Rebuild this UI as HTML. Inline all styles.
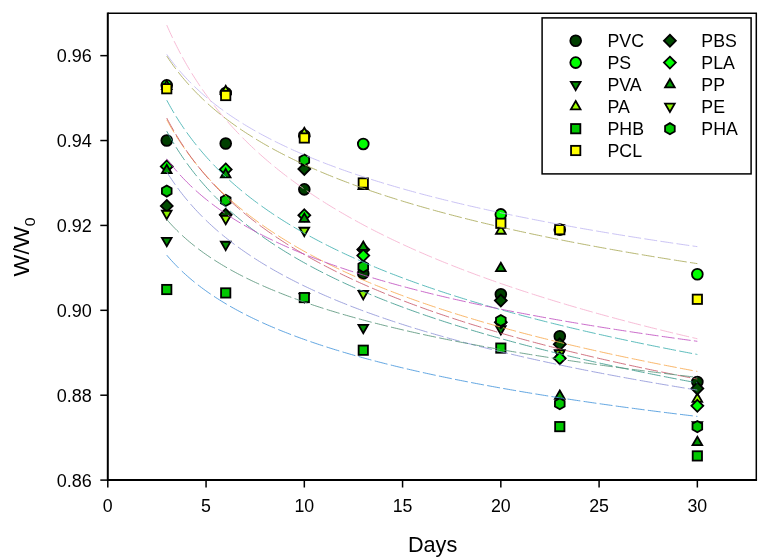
<!DOCTYPE html>
<html><head><meta charset="utf-8"><style>
html,body{margin:0;padding:0;background:#fff;}
body{width:769px;height:560px;overflow:hidden;}
svg{display:block;will-change:transform;}
.t{font-family:"Liberation Sans",sans-serif;font-size:18.5px;fill:#000;}
.l{font-family:"Liberation Sans",sans-serif;font-size:23px;fill:#000;}
</style></head><body>
<svg width="769" height="560" viewBox="0 0 769 560">
<rect width="769" height="560" fill="#fff"/>
<path d="M107.8 13.2L756.3 13.2L756.3 480.1" fill="none" stroke="#000" stroke-width="1.5"/><path d="M107.8 12.45L107.8 480.1L757.05 480.1" fill="none" stroke="#000" stroke-width="2"/><line x1="107.80" y1="480.1" x2="107.80" y2="487.5" stroke="#000" stroke-width="1.5"/><text transform="translate(107.80 512) scale(0.96 1.02)" text-anchor="middle" class="t">0</text><line x1="206.06" y1="480.1" x2="206.06" y2="487.5" stroke="#000" stroke-width="1.5"/><text transform="translate(206.06 512) scale(0.96 1.02)" text-anchor="middle" class="t">5</text><line x1="304.32" y1="480.1" x2="304.32" y2="487.5" stroke="#000" stroke-width="1.5"/><text transform="translate(304.32 512) scale(0.96 1.02)" text-anchor="middle" class="t">10</text><line x1="402.57" y1="480.1" x2="402.57" y2="487.5" stroke="#000" stroke-width="1.5"/><text transform="translate(402.57 512) scale(0.96 1.02)" text-anchor="middle" class="t">15</text><line x1="500.83" y1="480.1" x2="500.83" y2="487.5" stroke="#000" stroke-width="1.5"/><text transform="translate(500.83 512) scale(0.96 1.02)" text-anchor="middle" class="t">20</text><line x1="599.09" y1="480.1" x2="599.09" y2="487.5" stroke="#000" stroke-width="1.5"/><text transform="translate(599.09 512) scale(0.96 1.02)" text-anchor="middle" class="t">25</text><line x1="697.35" y1="480.1" x2="697.35" y2="487.5" stroke="#000" stroke-width="1.5"/><text transform="translate(697.35 512) scale(0.96 1.02)" text-anchor="middle" class="t">30</text><line x1="100.3" y1="480.10" x2="107.8" y2="480.10" stroke="#000" stroke-width="1.5"/><text transform="translate(91.8 486.60) scale(0.975 1.03)" text-anchor="end" class="t">0.86</text><line x1="100.3" y1="395.21" x2="107.8" y2="395.21" stroke="#000" stroke-width="1.5"/><text transform="translate(91.8 401.71) scale(0.975 1.03)" text-anchor="end" class="t">0.88</text><line x1="100.3" y1="310.32" x2="107.8" y2="310.32" stroke="#000" stroke-width="1.5"/><text transform="translate(91.8 316.82) scale(0.975 1.03)" text-anchor="end" class="t">0.90</text><line x1="100.3" y1="225.43" x2="107.8" y2="225.43" stroke="#000" stroke-width="1.5"/><text transform="translate(91.8 231.93) scale(0.975 1.03)" text-anchor="end" class="t">0.92</text><line x1="100.3" y1="140.54" x2="107.8" y2="140.54" stroke="#000" stroke-width="1.5"/><text transform="translate(91.8 147.04) scale(0.975 1.03)" text-anchor="end" class="t">0.94</text><line x1="100.3" y1="55.65" x2="107.8" y2="55.65" stroke="#000" stroke-width="1.5"/><text transform="translate(91.8 62.15) scale(0.975 1.03)" text-anchor="end" class="t">0.96</text><text transform="translate(432.6 552.4) scale(0.965 1)" text-anchor="middle" class="l" style="font-size:22.5px">Days</text><text transform="translate(29.0 247) rotate(-90) scale(1.05 1)" text-anchor="middle" class="l" style="font-size:22px">W/W<tspan dy="6.4" font-size="15">0</tspan></text>
<g><circle cx="166.75" cy="140.54" r="5.4" fill="#003f00" stroke="#000" stroke-width="1.8"/><circle cx="225.71" cy="143.51" r="5.4" fill="#003f00" stroke="#000" stroke-width="1.8"/><circle cx="304.32" cy="189.35" r="5.4" fill="#003f00" stroke="#000" stroke-width="1.8"/><circle cx="363.27" cy="273.39" r="5.4" fill="#003f00" stroke="#000" stroke-width="1.8"/><circle cx="500.83" cy="294.19" r="5.4" fill="#003f00" stroke="#000" stroke-width="1.8"/><circle cx="559.78" cy="336.21" r="5.4" fill="#003f00" stroke="#000" stroke-width="1.8"/><circle cx="697.35" cy="382.05" r="5.4" fill="#003f00" stroke="#000" stroke-width="1.8"/><circle cx="166.75" cy="85.36" r="5.4" fill="#00ff00" stroke="#000" stroke-width="1.8"/><circle cx="225.71" cy="93.00" r="5.4" fill="#00ff00" stroke="#000" stroke-width="1.8"/><circle cx="304.32" cy="135.44" r="5.4" fill="#00ff00" stroke="#000" stroke-width="1.8"/><circle cx="363.27" cy="143.93" r="5.4" fill="#00ff00" stroke="#000" stroke-width="1.8"/><circle cx="559.78" cy="229.67" r="5.4" fill="#00ff00" stroke="#000" stroke-width="1.8"/><circle cx="697.35" cy="274.24" r="5.4" fill="#00ff00" stroke="#000" stroke-width="1.8"/><path d="M166.75 246.28L171.58 237.92L161.93 237.92Z" fill="#008c00" stroke="#000" stroke-width="1.8"/><path d="M225.71 250.10L230.53 241.74L220.89 241.74Z" fill="#008c00" stroke="#000" stroke-width="1.8"/><path d="M304.32 302.31L309.14 293.95L299.49 293.95Z" fill="#008c00" stroke="#000" stroke-width="1.8"/><path d="M363.27 333.29L368.09 324.94L358.45 324.94Z" fill="#008c00" stroke="#000" stroke-width="1.8"/><path d="M500.83 334.56L505.65 326.21L496.01 326.21Z" fill="#008c00" stroke="#000" stroke-width="1.8"/><path d="M559.78 358.76L564.61 350.40L554.96 350.40Z" fill="#008c00" stroke="#000" stroke-width="1.8"/><path d="M697.35 430.49L702.17 422.14L692.52 422.14Z" fill="#008c00" stroke="#000" stroke-width="1.8"/><path d="M166.75 80.64L171.58 88.99L161.93 88.99Z" fill="#a0ff00" stroke="#000" stroke-width="1.8"/><path d="M225.71 85.73L230.53 94.08L220.89 94.08Z" fill="#a0ff00" stroke="#000" stroke-width="1.8"/><path d="M304.32 127.75L309.14 136.11L299.49 136.11Z" fill="#a0ff00" stroke="#000" stroke-width="1.8"/><path d="M363.27 180.81L368.09 189.16L358.45 189.16Z" fill="#a0ff00" stroke="#000" stroke-width="1.8"/><path d="M500.83 225.38L505.65 233.73L496.01 233.73Z" fill="#a0ff00" stroke="#000" stroke-width="1.8"/><path d="M559.78 350.16L564.61 358.52L554.96 358.52Z" fill="#a0ff00" stroke="#000" stroke-width="1.8"/><path d="M697.35 393.46L702.17 401.81L692.52 401.81Z" fill="#a0ff00" stroke="#000" stroke-width="1.8"/><rect x="162.10" y="284.87" width="9.30" height="9.30" fill="#00c800" stroke="#000" stroke-width="1.8"/><rect x="221.06" y="288.27" width="9.30" height="9.30" fill="#00c800" stroke="#000" stroke-width="1.8"/><rect x="299.67" y="292.93" width="9.30" height="9.30" fill="#00c800" stroke="#000" stroke-width="1.8"/><rect x="358.62" y="345.57" width="9.30" height="9.30" fill="#00c800" stroke="#000" stroke-width="1.8"/><rect x="496.18" y="343.44" width="9.30" height="9.30" fill="#00c800" stroke="#000" stroke-width="1.8"/><rect x="555.13" y="421.97" width="9.30" height="9.30" fill="#00c800" stroke="#000" stroke-width="1.8"/><rect x="692.70" y="451.26" width="9.30" height="9.30" fill="#00c800" stroke="#000" stroke-width="1.8"/><rect x="162.10" y="84.10" width="9.30" height="9.30" fill="#ffff00" stroke="#000" stroke-width="1.8"/><circle cx="500.83" cy="214.39" r="5.4" fill="#00ff00" stroke="#000" stroke-width="1.8"/><rect x="221.06" y="90.89" width="9.30" height="9.30" fill="#ffff00" stroke="#000" stroke-width="1.8"/><rect x="299.67" y="133.34" width="9.30" height="9.30" fill="#ffff00" stroke="#000" stroke-width="1.8"/><rect x="358.62" y="178.33" width="9.30" height="9.30" fill="#ffff00" stroke="#000" stroke-width="1.8"/><rect x="496.18" y="218.66" width="9.30" height="9.30" fill="#ffff00" stroke="#000" stroke-width="1.8"/><rect x="555.13" y="225.02" width="9.30" height="9.30" fill="#ffff00" stroke="#000" stroke-width="1.8"/><rect x="692.70" y="294.63" width="9.30" height="9.30" fill="#ffff00" stroke="#000" stroke-width="1.8"/><path d="M166.75 199.95L172.70 205.90L166.75 211.85L160.80 205.90Z" fill="#004d00" stroke="#000" stroke-width="1.8"/><path d="M225.71 208.87L231.66 214.82L225.71 220.77L219.76 214.82Z" fill="#004d00" stroke="#000" stroke-width="1.8"/><path d="M304.32 163.02L310.27 168.97L304.32 174.92L298.37 168.97Z" fill="#004d00" stroke="#000" stroke-width="1.8"/><path d="M363.27 243.67L369.22 249.62L363.27 255.57L357.32 249.62Z" fill="#004d00" stroke="#000" stroke-width="1.8"/><path d="M500.83 294.61L506.78 300.56L500.83 306.51L494.88 300.56Z" fill="#004d00" stroke="#000" stroke-width="1.8"/><path d="M559.78 338.32L565.73 344.27L559.78 350.22L553.83 344.27Z" fill="#004d00" stroke="#000" stroke-width="1.8"/><path d="M697.35 382.47L703.30 388.42L697.35 394.37L691.40 388.42Z" fill="#004d00" stroke="#000" stroke-width="1.8"/><path d="M166.75 160.48L172.70 166.43L166.75 172.38L160.80 166.43Z" fill="#00ff00" stroke="#000" stroke-width="1.8"/><path d="M225.71 163.45L231.66 169.40L225.71 175.35L219.76 169.40Z" fill="#00ff00" stroke="#000" stroke-width="1.8"/><path d="M304.32 209.29L310.27 215.24L304.32 221.19L298.37 215.24Z" fill="#00ff00" stroke="#000" stroke-width="1.8"/><path d="M363.27 249.61L369.22 255.56L363.27 261.51L357.32 255.56Z" fill="#00ff00" stroke="#000" stroke-width="1.8"/><path d="M500.83 316.25L506.78 322.20L500.83 328.15L494.88 322.20Z" fill="#00ff00" stroke="#000" stroke-width="1.8"/><path d="M697.35 399.87L703.30 405.82L697.35 411.77L691.40 405.82Z" fill="#00ff00" stroke="#000" stroke-width="1.8"/><path d="M166.75 164.68L171.58 173.03L161.93 173.03Z" fill="#009600" stroke="#000" stroke-width="1.8"/><path d="M225.71 168.92L230.53 177.28L220.89 177.28Z" fill="#009600" stroke="#000" stroke-width="1.8"/><path d="M304.32 213.49L309.14 221.85L299.49 221.85Z" fill="#009600" stroke="#000" stroke-width="1.8"/><path d="M363.27 241.50L368.09 249.86L358.45 249.86Z" fill="#009600" stroke="#000" stroke-width="1.8"/><path d="M500.83 262.73L505.65 271.08L496.01 271.08Z" fill="#009600" stroke="#000" stroke-width="1.8"/><path d="M559.78 390.49L564.61 398.84L554.96 398.84Z" fill="#009600" stroke="#000" stroke-width="1.8"/><path d="M697.35 436.75L702.17 445.11L692.52 445.11Z" fill="#009600" stroke="#000" stroke-width="1.8"/><path d="M166.75 219.11L171.58 210.76L161.93 210.76Z" fill="#8cf000" stroke="#000" stroke-width="1.8"/><path d="M225.71 224.21L230.53 215.85L220.89 215.85Z" fill="#8cf000" stroke="#000" stroke-width="1.8"/><path d="M304.32 236.09L309.14 227.74L299.49 227.74Z" fill="#8cf000" stroke="#000" stroke-width="1.8"/><path d="M363.27 299.33L368.09 290.98L358.45 290.98Z" fill="#8cf000" stroke="#000" stroke-width="1.8"/><path d="M559.78 358.76L564.61 350.40L554.96 350.40Z" fill="#8cf000" stroke="#000" stroke-width="1.8"/><path d="M166.75 185.47L171.59 188.26L171.59 193.84L166.75 196.63L161.92 193.84L161.92 188.26Z" fill="#00c800" stroke="#000" stroke-width="1.8"/><path d="M225.71 194.80L230.54 197.59L230.54 203.17L225.71 205.96L220.88 203.17L220.88 197.59Z" fill="#00c800" stroke="#000" stroke-width="1.8"/><path d="M304.32 154.48L309.15 157.27L309.15 162.85L304.32 165.64L299.48 162.85L299.48 157.27Z" fill="#00c800" stroke="#000" stroke-width="1.8"/><path d="M363.27 261.02L368.10 263.81L368.10 269.39L363.27 272.18L358.44 269.39L358.44 263.81Z" fill="#00c800" stroke="#000" stroke-width="1.8"/><path d="M500.83 314.93L505.66 317.72L505.66 323.30L500.83 326.09L496.00 323.30L496.00 317.72Z" fill="#00c800" stroke="#000" stroke-width="1.8"/><path d="M559.78 398.12L564.62 400.91L564.62 406.49L559.78 409.28L554.95 406.49L554.95 400.91Z" fill="#00c800" stroke="#000" stroke-width="1.8"/><path d="M697.35 421.04L702.18 423.83L702.18 429.41L697.35 432.20L692.51 429.41L692.51 423.83Z" fill="#00c800" stroke="#000" stroke-width="1.8"/><path d="M559.78 352.33L565.73 358.28L559.78 364.23L553.83 358.28Z" fill="#00ff00" stroke="#000" stroke-width="1.8"/></g>
<g><path d="M166.75 25.08L167.55 26.91L168.36 28.74L169.18 30.57L170.01 32.40L170.85 34.23L171.70 36.06L172.56 37.88M174.14 41.15L175.03 42.98L175.94 44.81L176.86 46.64L177.80 48.47L178.74 50.30L179.70 52.13L180.67 53.95M182.44 57.22L183.45 59.05L184.47 60.88L185.51 62.71L186.56 64.54L187.62 66.37L188.70 68.20L189.80 70.02M191.79 73.29L192.92 75.12L194.07 76.95L195.24 78.78L196.42 80.61L197.62 82.44L198.83 84.27L200.06 86.09M202.30 89.36L203.58 91.19L204.87 93.02L206.19 94.85L207.52 96.68L208.86 98.51L210.23 100.34L211.61 102.16M214.14 105.43L215.57 107.26L217.03 109.09L218.50 110.92L220.00 112.75L221.52 114.58L223.05 116.41L224.61 118.23M227.45 121.50L229.07 123.33L230.70 125.16L232.37 126.99L234.05 128.82L235.75 130.65L237.48 132.48L239.24 134.30M242.43 137.57L244.25 139.40L246.08 141.22L247.91 143.01L249.73 144.77L251.56 146.52L253.39 148.24L255.22 149.94M258.49 152.93L260.32 154.57L262.15 156.19L263.98 157.80L265.80 159.38L267.63 160.95L269.46 162.50L271.29 164.03M274.56 166.73L276.39 168.22L278.22 169.69L280.05 171.14L281.87 172.58L283.70 174.00L285.53 175.41L287.36 176.81M290.63 179.26L292.46 180.62L294.29 181.96L296.12 183.29L297.94 184.61L299.77 185.91L301.60 187.20L303.43 188.48M306.70 190.74L308.53 191.99L310.36 193.22L312.19 194.45L314.01 195.66L315.84 196.86L317.67 198.05L319.50 199.24M322.77 201.32L324.60 202.48L326.43 203.62L328.26 204.76L330.08 205.88L331.91 207.00L333.74 208.11L335.57 209.20M338.84 211.15L340.67 212.22L342.50 213.28L344.33 214.34L346.15 215.39L347.98 216.43L349.81 217.47L351.64 218.49M354.91 220.31L356.74 221.31L358.57 222.31L360.40 223.30L362.22 224.28L364.05 225.25L365.88 226.22L367.71 227.19M370.98 228.89L372.81 229.83L374.64 230.77L376.47 231.70L378.29 232.62L380.12 233.54L381.95 234.45L383.78 235.36M387.05 236.96L388.88 237.85L390.71 238.74L392.54 239.61L394.36 240.48L396.19 241.35L398.02 242.21L399.85 243.07M403.12 244.58L404.95 245.43L406.78 246.26L408.61 247.09L410.43 247.92L412.26 248.74L414.09 249.55L415.92 250.36M419.19 251.80L421.02 252.60L422.85 253.39L424.68 254.18L426.50 254.97L428.33 255.75L430.16 256.52L431.99 257.29M435.26 258.66L437.09 259.42L438.92 260.17L440.75 260.92L442.57 261.67L444.40 262.41L446.23 263.15L448.06 263.88M451.33 265.18L453.16 265.91L454.99 266.63L456.82 267.34L458.64 268.05L460.47 268.76L462.30 269.47L464.13 270.17M467.40 271.41L469.23 272.10L471.06 272.79L472.89 273.47L474.71 274.16L476.54 274.83L478.37 275.51L480.20 276.18M483.47 277.37L485.30 278.03L487.13 278.69L488.96 279.34L490.78 279.99L492.61 280.64L494.44 281.29L496.27 281.93M499.54 283.07L501.37 283.71L503.20 284.34L505.03 284.97L506.85 285.59L508.68 286.22L510.51 286.84L512.34 287.45M515.61 288.55L517.44 289.16L519.27 289.77L521.10 290.37L522.92 290.97L524.75 291.57L526.58 292.17L528.41 292.76M531.68 293.82L533.51 294.40L535.34 294.99L537.17 295.57L538.99 296.15L540.82 296.72L542.65 297.30L544.48 297.87M547.75 298.88L549.58 299.45L551.41 300.01L553.24 300.57L555.06 301.13L556.89 301.69L558.72 302.24L560.55 302.79M563.82 303.77L565.65 304.32L567.48 304.86L569.31 305.40L571.13 305.94L572.96 306.48L574.79 307.01L576.62 307.54M579.89 308.49L581.72 309.02L583.55 309.54L585.38 310.06L587.20 310.58L589.03 311.10L590.86 311.62L592.69 312.13M595.96 313.05L597.79 313.56L599.62 314.07L601.45 314.57L603.27 315.08L605.10 315.58L606.93 316.08L608.76 316.58M612.03 317.46L613.86 317.96L615.69 318.45L617.52 318.94L619.34 319.42L621.17 319.91L623.00 320.39L624.83 320.88M628.10 321.74L629.93 322.21L631.76 322.69L633.59 323.16L635.41 323.64L637.24 324.11L639.07 324.58L640.90 325.05M644.17 325.88L646.00 326.34L647.83 326.81L649.66 327.27L651.48 327.72L653.31 328.18L655.14 328.64L656.97 329.09M660.24 329.90L662.07 330.35L663.90 330.80L665.73 331.25L667.55 331.69L669.38 332.14L671.21 332.58L673.04 333.02M676.31 333.81L678.14 334.24L679.97 334.68L681.80 335.12L683.62 335.55L685.45 335.98L687.28 336.41L689.11 336.84M692.38 337.60L694.04 337.99L695.69 338.37L697.35 338.76" fill="none" stroke="#f6b0cf" stroke-width="0.85"/><path d="M166.75 54.37L168.06 56.20L169.39 58.03L170.76 59.86L172.15 61.69L173.58 63.51L175.03 65.34L176.52 67.17M179.27 70.44L180.85 72.27L182.46 74.10L184.12 75.93L185.81 77.76L187.53 79.58L189.30 81.41L191.10 83.24M194.37 86.46L196.20 88.20L198.03 89.91L199.86 91.59L201.69 93.23L203.52 94.84L205.34 96.42L207.17 97.97M210.44 100.68L212.27 102.15L214.10 103.60L215.93 105.02L217.76 106.42L219.59 107.80L221.41 109.16L223.24 110.49M226.51 112.82L228.34 114.10L230.17 115.35L232.00 116.59L233.83 117.81L235.66 119.02L237.48 120.20L239.31 121.37M242.58 123.42L244.41 124.55L246.24 125.66L248.07 126.75L249.90 127.84L251.73 128.90L253.55 129.96L255.38 131.00M258.65 132.83L260.48 133.83L262.31 134.83L264.14 135.81L265.97 136.78L267.80 137.74L269.62 138.69L271.45 139.63M274.72 141.28L276.55 142.19L278.38 143.09L280.21 143.98L282.04 144.86L283.87 145.73L285.69 146.60L287.52 147.45M290.79 148.96L292.62 149.79L294.45 150.61L296.28 151.42L298.11 152.23L299.94 153.03L301.76 153.82L303.59 154.60M306.86 155.99L308.69 156.75L310.52 157.51L312.35 158.26L314.18 159.00L316.01 159.74L317.83 160.47L319.66 161.19M322.93 162.47L324.76 163.18L326.59 163.88L328.42 164.57L330.25 165.26L332.08 165.94L333.90 166.62L335.73 167.30M339.00 168.48L340.83 169.14L342.66 169.80L344.49 170.44L346.32 171.09L348.15 171.72L349.97 172.36L351.80 172.98M355.07 174.10L356.90 174.71L358.73 175.32L360.56 175.93L362.39 176.53L364.22 177.13L366.04 177.72L367.87 178.31M371.14 179.35L372.97 179.93L374.80 180.51L376.63 181.08L378.46 181.64L380.29 182.20L382.11 182.76L383.94 183.32M387.21 184.30L389.04 184.84L390.87 185.39L392.70 185.92L394.53 186.46L396.36 186.99L398.18 187.52L400.01 188.04M403.28 188.97L405.11 189.48L406.94 190.00L408.77 190.51L410.60 191.01L412.43 191.51L414.25 192.01L416.08 192.51M419.35 193.39L421.18 193.88L423.01 194.37L424.84 194.85L426.67 195.33L428.50 195.81L430.32 196.28L432.15 196.75M435.42 197.59L437.25 198.06L439.08 198.52L440.91 198.98L442.74 199.44L444.57 199.89L446.39 200.34L448.22 200.79M451.49 201.59L453.32 202.03L455.15 202.47L456.98 202.91L458.81 203.35L460.64 203.78L462.46 204.21L464.29 204.64M467.56 205.41L469.39 205.83L471.22 206.25L473.05 206.67L474.88 207.09L476.71 207.50L478.53 207.91L480.36 208.33M483.63 209.06L485.46 209.46L487.29 209.86L489.12 210.27L490.95 210.67L492.78 211.06L494.60 211.46L496.43 211.85M499.70 212.55L501.53 212.94L503.36 213.33L505.19 213.71L507.02 214.10L508.85 214.48L510.67 214.86L512.50 215.24M515.77 215.91L517.60 216.28L519.43 216.65L521.26 217.02L523.09 217.39L524.92 217.76L526.74 218.12L528.57 218.49M531.84 219.13L533.67 219.49L535.50 219.85L537.33 220.21L539.16 220.56L540.99 220.92L542.81 221.27L544.64 221.62M547.91 222.24L549.74 222.59L551.57 222.93L553.40 223.27L555.23 223.62L557.06 223.96L558.88 224.30L560.71 224.63M563.98 225.23L565.81 225.57L567.64 225.90L569.47 226.23L571.30 226.56L573.13 226.89L574.95 227.22L576.78 227.55M580.05 228.13L581.88 228.45L583.71 228.77L585.54 229.09L587.37 229.41L589.20 229.73L591.02 230.04L592.85 230.36M596.12 230.92L597.95 231.23L599.78 231.54L601.61 231.85L603.44 232.16L605.27 232.47L607.09 232.78L608.92 233.08M612.19 233.62L614.02 233.93L615.85 234.23L617.68 234.53L619.51 234.83L621.34 235.12L623.16 235.42L624.99 235.72M628.26 236.24L630.09 236.54L631.92 236.83L633.75 237.12L635.58 237.41L637.41 237.70L639.23 237.98L641.06 238.27M644.33 238.78L646.16 239.07L647.99 239.35L649.82 239.63L651.65 239.91L653.48 240.19L655.30 240.47L657.13 240.75M660.40 241.25L662.23 241.52L664.06 241.80L665.89 242.07L667.72 242.34L669.55 242.62L671.37 242.89L673.20 243.16M676.47 243.64L678.30 243.91L680.13 244.18L681.96 244.44L683.79 244.71L685.62 244.97L687.44 245.24L689.27 245.50M692.54 245.97L694.14 246.20L695.74 246.42L697.35 246.65" fill="none" stroke="#c0b8f2" stroke-width="0.85"/><path d="M166.75 56.07L167.96 57.90L169.20 59.73L170.45 61.56L171.74 63.38L173.05 65.21L174.39 67.04L175.75 68.87M178.26 72.14L179.70 73.97L181.18 75.80L182.68 77.63L184.22 79.45L185.78 81.28L187.38 83.11L189.01 84.94M192.01 88.21L193.74 90.04L195.50 91.87L197.29 93.70L199.12 95.52L200.95 97.30L202.78 99.06L204.61 100.78M207.88 103.77L209.70 105.40L211.53 107.00L213.36 108.58L215.19 110.13L217.02 111.65L218.85 113.15L220.68 114.62M223.95 117.19L225.77 118.60L227.60 119.99L229.43 121.35L231.26 122.70L233.09 124.02L234.92 125.33L236.75 126.62M240.02 128.87L241.84 130.11L243.67 131.33L245.50 132.54L247.33 133.73L249.16 134.90L250.99 136.06L252.82 137.20M256.09 139.21L257.91 140.32L259.74 141.41L261.57 142.49L263.40 143.55L265.23 144.61L267.06 145.65L268.89 146.68M272.16 148.49L273.98 149.49L275.81 150.47L277.64 151.45L279.47 152.41L281.30 153.37L283.13 154.31L284.96 155.25M288.23 156.90L290.05 157.81L291.88 158.71L293.71 159.60L295.54 160.48L297.37 161.35L299.20 162.22L301.03 163.08M304.30 164.59L306.12 165.42L307.95 166.25L309.78 167.07L311.61 167.88L313.44 168.69L315.27 169.49L317.10 170.28M320.37 171.68L322.19 172.45L324.02 173.21L325.85 173.97L327.68 174.72L329.51 175.47L331.34 176.21L333.17 176.95M336.44 178.24L338.26 178.96L340.09 179.67L341.92 180.38L343.75 181.08L345.58 181.78L347.41 182.47L349.24 183.15M352.51 184.37L354.33 185.04L356.16 185.70L357.99 186.37L359.82 187.02L361.65 187.67L363.48 188.32L365.31 188.96M368.58 190.10L370.40 190.73L372.23 191.36L374.06 191.98L375.89 192.59L377.72 193.21L379.55 193.82L381.38 194.42M384.65 195.49L386.47 196.08L388.30 196.67L390.13 197.26L391.96 197.84L393.79 198.42L395.62 198.99L397.45 199.57M400.72 200.58L402.54 201.14L404.37 201.70L406.20 202.25L408.03 202.80L409.86 203.35L411.69 203.89L413.52 204.43M416.79 205.39L418.61 205.92L420.44 206.45L422.27 206.98L424.10 207.50L425.93 208.02L427.76 208.54L429.59 209.05M432.86 209.96L434.68 210.47L436.51 210.97L438.34 211.47L440.17 211.97L442.00 212.46L443.83 212.95L445.66 213.44M448.93 214.31L450.75 214.79L452.58 215.27L454.41 215.75L456.24 216.22L458.07 216.70L459.90 217.17L461.73 217.63M465.00 218.46L466.82 218.92L468.65 219.38L470.48 219.84L472.31 220.29L474.14 220.74L475.97 221.19L477.80 221.63M481.07 222.43L482.89 222.87L484.72 223.31L486.55 223.74L488.38 224.18L490.21 224.61L492.04 225.04L493.87 225.47M497.14 226.23L498.96 226.65L500.79 227.07L502.62 227.49L504.45 227.91L506.28 228.32L508.11 228.73L509.94 229.14M513.21 229.87L515.03 230.28L516.86 230.68L518.69 231.09L520.52 231.49L522.35 231.88L524.18 232.28L526.01 232.68M529.28 233.38L531.10 233.77L532.93 234.16L534.76 234.54L536.59 234.93L538.42 235.31L540.25 235.69L542.08 236.07M545.35 236.75L547.17 237.13L549.00 237.50L550.83 237.87L552.66 238.25L554.49 238.61L556.32 238.98L558.15 239.35M561.42 240.00L563.24 240.36L565.07 240.73L566.90 241.09L568.73 241.44L570.56 241.80L572.39 242.16L574.22 242.51M577.49 243.14L579.31 243.49L581.14 243.84L582.97 244.19L584.80 244.53L586.63 244.88L588.46 245.22L590.29 245.56M593.56 246.17L595.38 246.51L597.21 246.85L599.04 247.19L600.87 247.52L602.70 247.85L604.53 248.19L606.36 248.52M609.63 249.11L611.45 249.43L613.28 249.76L615.11 250.09L616.94 250.41L618.77 250.73L620.60 251.06L622.43 251.38M625.70 251.95L627.52 252.27L629.35 252.58L631.18 252.90L633.01 253.21L634.84 253.53L636.67 253.84L638.50 254.15M641.77 254.70L643.59 255.01L645.42 255.32L647.25 255.62L649.08 255.93L650.91 256.23L652.74 256.54L654.57 256.84M657.84 257.38L659.66 257.67L661.49 257.97L663.32 258.27L665.15 258.57L666.98 258.86L668.81 259.16L670.64 259.45M673.91 259.97L675.73 260.26L677.56 260.55L679.39 260.84L681.22 261.13L683.05 261.42L684.88 261.70L686.71 261.99M689.98 262.49L691.82 262.78L693.66 263.06L695.50 263.35L697.35 263.63" fill="none" stroke="#aaaa5a" stroke-width="0.85"/><path d="M166.75 100.21L167.74 102.04L168.74 103.87L169.76 105.70L170.79 107.53L171.84 109.36L172.91 111.18L174.00 113.01M175.99 116.28L177.13 118.11L178.29 119.94L179.46 121.77L180.66 123.60L181.88 125.43L183.11 127.25L184.37 129.08M186.67 132.35L187.99 134.18L189.33 136.01L190.69 137.84L192.07 139.67L193.48 141.50L194.91 143.32L196.37 145.15M199.03 148.42L200.55 150.25L202.10 152.08L203.68 153.91L205.28 155.74L206.90 157.57L208.56 159.39L210.24 161.22M213.32 164.49L215.08 166.32L216.87 168.15L218.70 169.98L220.52 171.78L222.35 173.56L224.18 175.31L226.01 177.03M229.28 180.04L231.11 181.69L232.94 183.32L234.77 184.92L236.59 186.50L238.42 188.06L240.25 189.59L242.08 191.11M245.35 193.76L247.18 195.22L249.01 196.66L250.84 198.08L252.66 199.48L254.49 200.87L256.32 202.24L258.15 203.59M261.42 205.96L263.25 207.27L265.08 208.56L266.91 209.84L268.73 211.10L270.56 212.35L272.39 213.58L274.22 214.80M277.49 216.95L279.32 218.13L281.15 219.30L282.98 220.46L284.80 221.61L286.63 222.74L288.46 223.87L290.29 224.98M293.56 226.94L295.39 228.02L297.22 229.09L299.05 230.15L300.87 231.20L302.70 232.24L304.53 233.28L306.36 234.30M309.63 236.10L311.46 237.10L313.29 238.08L315.12 239.06L316.94 240.03L318.77 240.99L320.60 241.95L322.43 242.89M325.70 244.56L327.53 245.48L329.36 246.40L331.19 247.31L333.01 248.21L334.84 249.10L336.67 249.98L338.50 250.86M341.77 252.42L343.60 253.28L345.43 254.13L347.26 254.98L349.08 255.82L350.91 256.65L352.74 257.48L354.57 258.30M357.84 259.75L359.67 260.56L361.50 261.36L363.33 262.15L365.15 262.94L366.98 263.72L368.81 264.49L370.64 265.26M373.91 266.63L375.74 267.39L377.57 268.14L379.40 268.88L381.22 269.62L383.05 270.36L384.88 271.09L386.71 271.82M389.98 273.10L391.81 273.82L393.64 274.53L395.47 275.23L397.29 275.93L399.12 276.63L400.95 277.32L402.78 278.00M406.05 279.22L407.88 279.89L409.71 280.57L411.54 281.23L413.36 281.90L415.19 282.55L417.02 283.21L418.85 283.86M422.12 285.01L423.95 285.66L425.78 286.29L427.61 286.93L429.43 287.55L431.26 288.18L433.09 288.80L434.92 289.42M438.19 290.52L440.02 291.13L441.85 291.74L443.68 292.34L445.50 292.94L447.33 293.53L449.16 294.13L450.99 294.72M454.26 295.76L456.09 296.35L457.92 296.92L459.75 297.50L461.57 298.07L463.40 298.64L465.23 299.21L467.06 299.77M470.33 300.77L472.16 301.33L473.99 301.88L475.82 302.43L477.64 302.98L479.47 303.52L481.30 304.06L483.13 304.60M486.40 305.56L488.23 306.09L490.06 306.62L491.89 307.15L493.71 307.67L495.54 308.19L497.37 308.71L499.20 309.23M502.47 310.15L504.30 310.66L506.13 311.17L507.96 311.67L509.78 312.18L511.61 312.68L513.44 313.18L515.27 313.67M518.54 314.56L520.37 315.05L522.20 315.54L524.03 316.02L525.85 316.51L527.68 316.99L529.51 317.47L531.34 317.95M534.61 318.79L536.44 319.27L538.27 319.74L540.10 320.20L541.92 320.67L543.75 321.14L545.58 321.60L547.41 322.06M550.68 322.88L552.51 323.33L554.34 323.78L556.17 324.24L557.99 324.68L559.82 325.13L561.65 325.58L563.48 326.02M566.75 326.81L568.58 327.25L570.41 327.69L572.24 328.12L574.06 328.56L575.89 328.99L577.72 329.42L579.55 329.85M582.82 330.61L584.65 331.04L586.48 331.46L588.31 331.88L590.13 332.30L591.96 332.72L593.79 333.13L595.62 333.55M598.89 334.29L600.72 334.70L602.55 335.10L604.38 335.51L606.20 335.92L608.03 336.32L609.86 336.72L611.69 337.13M614.96 337.84L616.79 338.24L618.62 338.63L620.45 339.03L622.27 339.42L624.10 339.81L625.93 340.20L627.76 340.59M631.03 341.29L632.86 341.67L634.69 342.05L636.52 342.44L638.34 342.82L640.17 343.20L642.00 343.58L643.83 343.95M647.10 344.63L648.93 345.00L650.76 345.37L652.59 345.74L654.41 346.11L656.24 346.48L658.07 346.85L659.90 347.22M663.17 347.87L665.00 348.23L666.83 348.59L668.66 348.95L670.48 349.31L672.31 349.67L674.14 350.03L675.97 350.38M679.24 351.02L681.07 351.37L682.90 351.72L684.73 352.07L686.55 352.42L688.38 352.77L690.21 353.12L692.04 353.46M695.31 354.08L696.33 354.27L697.35 354.46" fill="none" stroke="#40b0b0" stroke-width="0.85"/><path d="M166.75 119.74L167.75 121.57L168.76 123.40L169.79 125.22L170.83 127.05L171.90 128.88L172.98 130.71L174.08 132.54M176.09 135.81L177.24 137.64L178.41 139.47L179.61 141.29L180.82 143.12L182.05 144.95L183.30 146.78L184.57 148.61M186.91 151.88L188.24 153.71L189.60 155.54L190.98 157.36L192.38 159.19L193.81 161.02L195.26 162.85L196.73 164.68M199.43 167.95L200.98 169.78L202.55 171.61L204.15 173.43L205.77 175.26L207.43 177.09L209.11 178.92L210.82 180.75M213.94 184.02L215.74 185.85L217.56 187.67L219.38 189.48L221.21 191.26L223.04 193.01L224.87 194.73L226.70 196.42M229.97 199.39L231.80 201.01L233.63 202.61L235.45 204.19L237.28 205.74L239.11 207.28L240.94 208.79L242.77 210.28M246.04 212.90L247.87 214.33L249.70 215.75L251.52 217.15L253.35 218.53L255.18 219.90L257.01 221.24L258.84 222.58M262.11 224.92L263.94 226.20L265.77 227.48L267.59 228.74L269.42 229.98L271.25 231.21L273.08 232.43L274.91 233.63M278.18 235.75L280.01 236.91L281.84 238.07L283.66 239.21L285.49 240.34L287.32 241.46L289.15 242.57L290.98 243.66M294.25 245.60L296.08 246.67L297.91 247.72L299.73 248.77L301.56 249.81L303.39 250.83L305.22 251.85L307.05 252.86M310.32 254.64L312.15 255.62L313.98 256.59L315.80 257.56L317.63 258.52L319.46 259.46L321.29 260.40L323.12 261.34M326.39 262.98L328.22 263.89L330.05 264.80L331.87 265.69L333.70 266.58L335.53 267.46L337.36 268.34L339.19 269.20M342.46 270.74L344.29 271.59L346.12 272.43L347.94 273.26L349.77 274.09L351.60 274.92L353.43 275.73L355.26 276.54M358.53 277.98L360.36 278.77L362.19 279.56L364.01 280.35L365.84 281.12L367.67 281.89L369.50 282.66L371.33 283.42M374.60 284.77L376.43 285.52L378.26 286.26L380.08 286.99L381.91 287.73L383.74 288.45L385.57 289.18L387.40 289.89M390.67 291.16L392.50 291.87L394.33 292.57L396.15 293.26L397.98 293.95L399.81 294.64L401.64 295.32L403.47 296.00M406.74 297.20L408.57 297.87L410.40 298.53L412.22 299.19L414.05 299.85L415.88 300.50L417.71 301.14L419.54 301.79M422.81 302.93L424.64 303.56L426.47 304.19L428.29 304.81L430.12 305.44L431.95 306.06L433.78 306.67L435.61 307.28M438.88 308.37L440.71 308.97L442.54 309.57L444.36 310.16L446.19 310.76L448.02 311.34L449.85 311.93L451.68 312.51M454.95 313.55L456.78 314.12L458.61 314.69L460.43 315.26L462.26 315.83L464.09 316.39L465.92 316.95L467.75 317.51M471.02 318.49L472.85 319.04L474.68 319.59L476.50 320.13L478.33 320.67L480.16 321.21L481.99 321.75L483.82 322.28M487.09 323.23L488.92 323.75L490.75 324.28L492.57 324.80L494.40 325.31L496.23 325.83L498.06 326.34L499.89 326.85M503.16 327.76L504.99 328.27L506.82 328.77L508.64 329.27L510.47 329.77L512.30 330.26L514.13 330.75L515.96 331.25M519.23 332.12L521.06 332.60L522.89 333.09L524.71 333.57L526.54 334.04L528.37 334.52L530.20 334.99L532.03 335.47M535.30 336.31L537.13 336.77L538.96 337.24L540.78 337.70L542.61 338.16L544.44 338.62L546.27 339.08L548.10 339.53M551.37 340.34L553.20 340.79L555.03 341.24L556.85 341.68L558.68 342.13L560.51 342.57L562.34 343.01L564.17 343.45M567.44 344.23L569.27 344.66L571.10 345.10L572.92 345.53L574.75 345.96L576.58 346.38L578.41 346.81L580.24 347.23M583.51 347.99L585.34 348.41L587.17 348.82L588.99 349.24L590.82 349.65L592.65 350.07L594.48 350.48L596.31 350.89M599.58 351.62L601.41 352.02L603.24 352.43L605.06 352.83L606.89 353.23L608.72 353.63L610.55 354.03L612.38 354.43M615.65 355.13L617.48 355.53L619.31 355.92L621.13 356.31L622.96 356.70L624.79 357.08L626.62 357.47L628.45 357.85M631.72 358.54L633.55 358.92L635.38 359.30L637.20 359.68L639.03 360.05L640.86 360.43L642.69 360.80L644.52 361.18M647.79 361.84L649.62 362.21L651.45 362.58L653.27 362.95L655.10 363.31L656.93 363.68L658.76 364.04L660.59 364.40M663.86 365.05L665.69 365.41L667.52 365.76L669.34 366.12L671.17 366.48L673.00 366.83L674.83 367.18L676.66 367.53M679.93 368.16L681.76 368.51L683.59 368.86L685.41 369.20L687.24 369.55L689.07 369.89L690.90 370.24L692.73 370.58M696.00 371.19L696.67 371.31L697.35 371.44" fill="none" stroke="#f8aa50" stroke-width="0.85"/><path d="M166.75 118.04L167.71 119.87L168.69 121.70L169.68 123.53L170.68 125.35L171.71 127.18L172.75 129.01L173.80 130.84M175.73 134.11L176.84 135.94L177.96 137.77L179.10 139.60L180.26 141.42L181.44 143.25L182.64 145.08L183.85 146.91M186.08 150.18L187.35 152.01L188.64 153.84L189.96 155.67L191.29 157.49L192.65 159.32L194.03 161.15L195.43 162.98M198.00 166.25L199.47 168.08L200.96 169.91L202.47 171.74L204.01 173.56L205.57 175.39L207.16 177.22L208.78 179.05M211.74 182.32L213.43 184.15L215.14 185.98L216.89 187.81L218.66 189.63L220.46 191.46L222.29 193.29L224.12 195.08M227.39 198.23L229.22 199.95L231.05 201.64L232.88 203.31L234.70 204.96L236.53 206.58L238.36 208.18L240.19 209.75M243.46 212.52L245.29 214.04L247.12 215.54L248.95 217.01L250.77 218.47L252.60 219.91L254.43 221.34L256.26 222.74M259.53 225.21L261.36 226.57L263.19 227.91L265.02 229.24L266.84 230.55L268.67 231.84L270.50 233.13L272.33 234.39M275.60 236.62L277.43 237.85L279.26 239.07L281.09 240.27L282.91 241.46L284.74 242.64L286.57 243.80L288.40 244.96M291.67 246.99L293.50 248.11L295.33 249.22L297.16 250.32L298.98 251.41L300.81 252.49L302.64 253.56L304.47 254.62M307.74 256.49L309.57 257.52L311.40 258.55L313.23 259.56L315.05 260.56L316.88 261.56L318.71 262.55L320.54 263.53M323.81 265.26L325.64 266.21L327.47 267.16L329.30 268.10L331.12 269.03L332.95 269.95L334.78 270.87L336.61 271.78M339.88 273.39L341.71 274.28L343.54 275.16L345.37 276.04L347.19 276.91L349.02 277.77L350.85 278.63L352.68 279.48M355.95 280.98L357.78 281.81L359.61 282.64L361.44 283.46L363.26 284.27L365.09 285.08L366.92 285.88L368.75 286.68M372.02 288.09L373.85 288.88L375.68 289.65L377.51 290.42L379.33 291.19L381.16 291.95L382.99 292.71L384.82 293.46M388.09 294.79L389.92 295.52L391.75 296.26L393.58 296.98L395.40 297.71L397.23 298.43L399.06 299.14L400.89 299.85M404.16 301.11L405.99 301.81L407.82 302.50L409.65 303.19L411.47 303.87L413.30 304.55L415.13 305.23L416.96 305.90M420.23 307.09L422.06 307.76L423.89 308.41L425.72 309.07L427.54 309.72L429.37 310.36L431.20 311.01L433.03 311.65M436.30 312.78L438.13 313.41L439.96 314.04L441.79 314.66L443.61 315.28L445.44 315.89L447.27 316.50L449.10 317.11M452.37 318.19L454.20 318.79L456.03 319.39L457.86 319.99L459.68 320.58L461.51 321.16L463.34 321.75L465.17 322.33M468.44 323.36L470.27 323.94L472.10 324.51L473.93 325.07L475.75 325.64L477.58 326.20L479.41 326.76L481.24 327.32M484.51 328.30L486.34 328.85L488.17 329.40L490.00 329.94L491.82 330.48L493.65 331.02L495.48 331.56L497.31 332.09M500.58 333.04L502.41 333.57L504.24 334.09L506.07 334.61L507.89 335.13L509.72 335.65L511.55 336.16L513.38 336.68M516.65 337.59L518.48 338.09L520.31 338.60L522.14 339.10L523.96 339.60L525.79 340.09L527.62 340.59L529.45 341.08M532.72 341.96L534.55 342.44L536.38 342.93L538.21 343.41L540.03 343.89L541.86 344.37L543.69 344.85L545.52 345.32M548.79 346.17L550.62 346.63L552.45 347.10L554.28 347.57L556.10 348.03L557.93 348.49L559.76 348.95L561.59 349.41M564.86 350.22L566.69 350.68L568.52 351.13L570.35 351.58L572.17 352.02L574.00 352.47L575.83 352.91L577.66 353.35M580.93 354.14L582.76 354.58L584.59 355.01L586.42 355.45L588.24 355.88L590.07 356.31L591.90 356.74L593.73 357.17M597.00 357.93L598.83 358.35L600.66 358.77L602.49 359.19L604.31 359.61L606.14 360.03L607.97 360.44L609.80 360.86M613.07 361.59L614.90 362.00L616.73 362.41L618.56 362.82L620.38 363.22L622.21 363.62L624.04 364.03L625.87 364.43M629.14 365.14L630.97 365.54L632.80 365.93L634.63 366.33L636.45 366.72L638.28 367.11L640.11 367.50L641.94 367.89M645.21 368.58L647.04 368.97L648.87 369.35L650.70 369.73L652.52 370.12L654.35 370.50L656.18 370.87L658.01 371.25M661.28 371.92L663.11 372.30L664.94 372.67L666.77 373.04L668.59 373.41L670.42 373.78L672.25 374.15L674.08 374.52M677.35 375.17L679.18 375.53L681.01 375.89L682.84 376.25L684.66 376.61L686.49 376.97L688.32 377.33L690.15 377.69M693.42 378.32L695.38 378.70L697.35 379.08" fill="none" stroke="#c85a6a" stroke-width="0.85"/><path d="M166.75 131.20L167.75 133.03L168.76 134.86L169.79 136.68L170.83 138.51L171.90 140.34L172.98 142.17L174.08 144.00M176.09 147.27L177.24 149.10L178.41 150.93L179.61 152.75L180.82 154.58L182.05 156.41L183.30 158.24L184.57 160.07M186.91 163.34L188.24 165.17L189.60 167.00L190.98 168.82L192.38 170.65L193.81 172.48L195.26 174.31L196.73 176.14M199.43 179.41L200.98 181.24L202.55 183.07L204.15 184.89L205.77 186.72L207.43 188.55L209.11 190.38L210.82 192.21M213.94 195.48L215.74 197.31L217.56 199.13L219.38 200.94L221.21 202.72L223.04 204.47L224.87 206.19L226.70 207.88M229.97 210.85L231.80 212.47L233.63 214.07L235.45 215.65L237.28 217.20L239.11 218.74L240.94 220.25L242.77 221.74M246.04 224.36L247.87 225.79L249.70 227.21L251.52 228.61L253.35 229.99L255.18 231.36L257.01 232.70L258.84 234.04M262.11 236.38L263.94 237.67L265.77 238.94L267.59 240.20L269.42 241.44L271.25 242.67L273.08 243.89L274.91 245.09M278.18 247.21L280.01 248.37L281.84 249.53L283.66 250.67L285.49 251.80L287.32 252.92L289.15 254.03L290.98 255.13M294.25 257.06L296.08 258.13L297.91 259.18L299.73 260.23L301.56 261.27L303.39 262.29L305.22 263.31L307.05 264.32M310.32 266.10L312.15 267.08L313.98 268.05L315.80 269.02L317.63 269.98L319.46 270.92L321.29 271.86L323.12 272.80M326.39 274.44L328.22 275.35L330.05 276.26L331.87 277.15L333.70 278.04L335.53 278.92L337.36 279.80L339.19 280.66M342.46 282.20L344.29 283.05L346.12 283.89L347.94 284.72L349.77 285.55L351.60 286.38L353.43 287.19L355.26 288.00M358.53 289.44L360.36 290.23L362.19 291.02L364.01 291.81L365.84 292.58L367.67 293.35L369.50 294.12L371.33 294.88M374.60 296.23L376.43 296.98L378.26 297.72L380.08 298.46L381.91 299.19L383.74 299.91L385.57 300.64L387.40 301.35M390.67 302.62L392.50 303.33L394.33 304.03L396.15 304.72L397.98 305.41L399.81 306.10L401.64 306.78L403.47 307.46M406.74 308.66L408.57 309.33L410.40 309.99L412.22 310.65L414.05 311.31L415.88 311.96L417.71 312.60L419.54 313.25M422.81 314.39L424.64 315.02L426.47 315.65L428.29 316.28L430.12 316.90L431.95 317.52L433.78 318.13L435.61 318.74M438.88 319.83L440.71 320.43L442.54 321.03L444.36 321.62L446.19 322.22L448.02 322.80L449.85 323.39L451.68 323.97M454.95 325.01L456.78 325.58L458.61 326.15L460.43 326.72L462.26 327.29L464.09 327.85L465.92 328.41L467.75 328.97M471.02 329.95L472.85 330.50L474.68 331.05L476.50 331.59L478.33 332.13L480.16 332.67L481.99 333.21L483.82 333.74M487.09 334.69L488.92 335.21L490.75 335.74L492.57 336.26L494.40 336.77L496.23 337.29L498.06 337.80L499.89 338.32M503.16 339.22L504.99 339.73L506.82 340.23L508.64 340.73L510.47 341.23L512.30 341.72L514.13 342.22L515.96 342.71M519.23 343.58L521.06 344.06L522.89 344.55L524.71 345.03L526.54 345.50L528.37 345.98L530.20 346.46L532.03 346.93M535.30 347.77L537.13 348.23L538.96 348.70L540.78 349.16L542.61 349.62L544.44 350.08L546.27 350.54L548.10 350.99M551.37 351.80L553.20 352.25L555.03 352.70L556.85 353.14L558.68 353.59L560.51 354.03L562.34 354.47L564.17 354.91M567.44 355.69L569.27 356.12L571.10 356.56L572.92 356.99L574.75 357.42L576.58 357.84L578.41 358.27L580.24 358.69M583.51 359.45L585.34 359.87L587.17 360.28L588.99 360.70L590.82 361.12L592.65 361.53L594.48 361.94L596.31 362.35M599.58 363.08L601.41 363.48L603.24 363.89L605.06 364.29L606.89 364.69L608.72 365.09L610.55 365.49L612.38 365.89M615.65 366.59L617.48 366.99L619.31 367.38L621.13 367.77L622.96 368.16L624.79 368.54L626.62 368.93L628.45 369.31M631.72 370.00L633.55 370.38L635.38 370.76L637.20 371.14L639.03 371.51L640.86 371.89L642.69 372.26L644.52 372.64M647.79 373.30L649.62 373.67L651.45 374.04L653.27 374.41L655.10 374.77L656.93 375.14L658.76 375.50L660.59 375.86M663.86 376.51L665.69 376.87L667.52 377.22L669.34 377.58L671.17 377.94L673.00 378.29L674.83 378.64L676.66 379.00M679.93 379.62L681.76 379.97L683.59 380.32L685.41 380.66L687.24 381.01L689.07 381.35L690.90 381.70L692.73 382.04M696.00 382.65L696.67 382.77L697.35 382.90" fill="none" stroke="#3c9a8c" stroke-width="0.85"/><path d="M166.75 158.79L168.13 160.62L169.54 162.45L170.98 164.27L172.45 166.10L173.96 167.93L175.51 169.76L177.09 171.59M180.00 174.86L181.69 176.69L183.41 178.52L185.18 180.34L186.98 182.17L188.81 183.98L190.64 185.75L192.47 187.48M195.74 190.49L197.57 192.12L199.40 193.71L201.23 195.28L203.05 196.82L204.88 198.33L206.71 199.80L208.54 201.26M211.81 203.79L213.64 205.17L215.47 206.53L217.30 207.86L219.12 209.18L220.95 210.47L222.78 211.74L224.61 212.99M227.88 215.18L229.71 216.37L231.54 217.55L233.37 218.72L235.19 219.86L237.02 220.99L238.85 222.11L240.68 223.21M243.95 225.13L245.78 226.19L247.61 227.23L249.44 228.26L251.26 229.28L253.09 230.28L254.92 231.28L256.75 232.25M260.02 233.98L261.85 234.92L263.68 235.86L265.51 236.78L267.33 237.70L269.16 238.60L270.99 239.49L272.82 240.38M276.09 241.93L277.92 242.79L279.75 243.64L281.58 244.47L283.40 245.30L285.23 246.12L287.06 246.94L288.89 247.74M292.16 249.16L293.99 249.94L295.82 250.72L297.65 251.48L299.47 252.24L301.30 253.00L303.13 253.74L304.96 254.48M308.23 255.78L310.06 256.50L311.89 257.22L313.72 257.93L315.54 258.63L317.37 259.32L319.20 260.01L321.03 260.69M324.30 261.90L326.13 262.56L327.96 263.23L329.79 263.88L331.61 264.53L333.44 265.18L335.27 265.82L337.10 266.45M340.37 267.57L342.20 268.19L344.03 268.81L345.86 269.42L347.68 270.03L349.51 270.63L351.34 271.23L353.17 271.82M356.44 272.87L358.27 273.45L360.10 274.03L361.93 274.60L363.75 275.17L365.58 275.73L367.41 276.29L369.24 276.85M372.51 277.83L374.34 278.38L376.17 278.92L378.00 279.46L379.82 279.99L381.65 280.53L383.48 281.05L385.31 281.58M388.58 282.51L390.41 283.02L392.24 283.53L394.07 284.04L395.89 284.54L397.72 285.05L399.55 285.54L401.38 286.04M404.65 286.92L406.48 287.40L408.31 287.89L410.14 288.37L411.96 288.85L413.79 289.32L415.62 289.79L417.45 290.26M420.72 291.10L422.55 291.56L424.38 292.02L426.21 292.47L428.03 292.93L429.86 293.38L431.69 293.83L433.52 294.27M436.79 295.07L438.62 295.51L440.45 295.94L442.28 296.38L444.10 296.81L445.93 297.24L447.76 297.67L449.59 298.09M452.86 298.85L454.69 299.27L456.52 299.68L458.35 300.10L460.17 300.51L462.00 300.92L463.83 301.33L465.66 301.73M468.93 302.45L470.76 302.85L472.59 303.25L474.42 303.65L476.24 304.04L478.07 304.44L479.90 304.83L481.73 305.22M485.00 305.91L486.83 306.29L488.66 306.67L490.49 307.05L492.31 307.43L494.14 307.80L495.97 308.18L497.80 308.55M501.07 309.21L502.90 309.58L504.73 309.95L506.56 310.31L508.38 310.67L510.21 311.03L512.04 311.39L513.87 311.75M517.14 312.39L518.97 312.74L520.80 313.09L522.63 313.44L524.45 313.79L526.28 314.14L528.11 314.48L529.94 314.83M533.21 315.44L535.04 315.78L536.87 316.12L538.70 316.45L540.52 316.79L542.35 317.12L544.18 317.46L546.01 317.79M549.28 318.38L551.11 318.71L552.94 319.03L554.77 319.36L556.59 319.68L558.42 320.00L560.25 320.32L562.08 320.64M565.35 321.21L567.18 321.53L569.01 321.84L570.84 322.16L572.66 322.47L574.49 322.78L576.32 323.09L578.15 323.40M581.42 323.95L583.25 324.25L585.08 324.56L586.91 324.86L588.73 325.16L590.56 325.46L592.39 325.76L594.22 326.06M597.49 326.59L599.32 326.89L601.15 327.18L602.98 327.48L604.80 327.77L606.63 328.06L608.46 328.35L610.29 328.64M613.56 329.15L615.39 329.44L617.22 329.72L619.05 330.01L620.87 330.29L622.70 330.57L624.53 330.85L626.36 331.13M629.63 331.63L631.46 331.91L633.29 332.19L635.12 332.46L636.94 332.74L638.77 333.01L640.60 333.28L642.43 333.55M645.70 334.04L647.53 334.31L649.36 334.57L651.19 334.84L653.01 335.11L654.84 335.37L656.67 335.64L658.50 335.90M661.77 336.37L663.60 336.63L665.43 336.89L667.26 337.15L669.08 337.41L670.91 337.67L672.74 337.92L674.57 338.18M677.84 338.64L679.67 338.89L681.50 339.14L683.33 339.40L685.15 339.65L686.98 339.90L688.81 340.15L690.64 340.40M693.91 340.84L695.63 341.07L697.35 341.30" fill="none" stroke="#c050c0" stroke-width="0.85"/><path d="M166.75 171.95L167.90 173.77L169.07 175.60L170.27 177.43L171.49 179.26L172.73 181.09L173.99 182.92L175.28 184.75M177.65 188.02L179.01 189.84L180.40 191.67L181.82 193.50L183.26 195.33L184.73 197.16L186.23 198.99L187.75 200.82M190.56 204.09L192.18 205.91L193.82 207.74L195.50 209.57L197.20 211.40L198.95 213.23L200.72 215.06L202.53 216.89M205.80 220.10L207.63 221.85L209.46 223.57L211.29 225.26L213.12 226.92L214.95 228.55L216.77 230.16L218.60 231.73M221.87 234.49L223.70 235.99L225.53 237.48L227.36 238.94L229.19 240.38L231.02 241.79L232.84 243.19L234.67 244.56M237.94 246.98L239.77 248.30L241.60 249.60L243.43 250.89L245.26 252.16L247.09 253.41L248.91 254.64L250.74 255.86M254.01 258.01L255.84 259.19L257.67 260.35L259.50 261.50L261.33 262.63L263.16 263.75L264.98 264.86L266.81 265.96M270.08 267.89L271.91 268.95L273.74 270.00L275.57 271.04L277.40 272.06L279.23 273.08L281.05 274.09L282.88 275.08M286.15 276.83L287.98 277.80L289.81 278.76L291.64 279.70L293.47 280.64L295.30 281.57L297.12 282.49L298.95 283.40M302.22 285.01L304.05 285.90L305.88 286.77L307.71 287.64L309.54 288.51L311.37 289.36L313.19 290.21L315.02 291.05M318.29 292.53L320.12 293.35L321.95 294.17L323.78 294.97L325.61 295.77L327.44 296.56L329.26 297.35L331.09 298.13M334.36 299.50L336.19 300.27L338.02 301.02L339.85 301.77L341.68 302.51L343.51 303.25L345.33 303.98L347.16 304.71M350.43 306.00L352.26 306.71L354.09 307.41L355.92 308.12L357.75 308.81L359.58 309.50L361.40 310.19L363.23 310.87M366.50 312.07L368.33 312.74L370.16 313.40L371.99 314.06L373.82 314.71L375.65 315.36L377.47 316.01L379.30 316.65M382.57 317.78L384.40 318.41L386.23 319.04L388.06 319.66L389.89 320.27L391.72 320.88L393.54 321.49L395.37 322.10M398.64 323.17L400.47 323.76L402.30 324.35L404.13 324.94L405.96 325.52L407.79 326.10L409.61 326.68L411.44 327.25M414.71 328.26L416.54 328.83L418.37 329.39L420.20 329.94L422.03 330.50L423.86 331.05L425.68 331.59L427.51 332.14M430.78 333.10L432.61 333.63L434.44 334.17L436.27 334.70L438.10 335.22L439.93 335.74L441.75 336.26L443.58 336.78M446.85 337.70L448.68 338.21L450.51 338.72L452.34 339.22L454.17 339.72L456.00 340.22L457.82 340.72L459.65 341.21M462.92 342.09L464.75 342.57L466.58 343.06L468.41 343.54L470.24 344.02L472.07 344.50L473.89 344.97L475.72 345.44M478.99 346.28L480.82 346.75L482.65 347.21L484.48 347.67L486.31 348.13L488.14 348.59L489.96 349.04L491.79 349.49M495.06 350.30L496.89 350.74L498.72 351.19L500.55 351.63L502.38 352.07L504.21 352.51L506.03 352.94L507.86 353.38M511.13 354.15L512.96 354.58L514.79 355.00L516.62 355.43L518.45 355.85L520.28 356.27L522.10 356.69L523.93 357.11M527.20 357.85L529.03 358.26L530.86 358.67L532.69 359.08L534.52 359.49L536.35 359.89L538.17 360.30L540.00 360.70M543.27 361.41L545.10 361.81L546.93 362.21L548.76 362.60L550.59 362.99L552.42 363.38L554.24 363.77L556.07 364.16M559.34 364.85L561.17 365.23L563.00 365.61L564.83 365.99L566.66 366.37L568.49 366.75L570.31 367.12L572.14 367.50M575.41 368.16L577.24 368.53L579.07 368.90L580.90 369.27L582.73 369.63L584.56 370.00L586.38 370.36L588.21 370.72M591.48 371.36L593.31 371.72L595.14 372.08L596.97 372.43L598.80 372.78L600.63 373.14L602.45 373.49L604.28 373.84M607.55 374.46L609.38 374.81L611.21 375.15L613.04 375.49L614.87 375.84L616.70 376.18L618.52 376.52L620.35 376.86M623.62 377.46L625.45 377.79L627.28 378.13L629.11 378.46L630.94 378.79L632.77 379.12L634.59 379.45L636.42 379.78M639.69 380.37L641.52 380.69L643.35 381.01L645.18 381.34L647.01 381.66L648.84 381.98L650.66 382.30L652.49 382.62M655.76 383.19L657.59 383.50L659.42 383.82L661.25 384.13L663.08 384.44L664.91 384.75L666.73 385.06L668.56 385.37M671.83 385.92L673.66 386.23L675.49 386.54L677.32 386.84L679.15 387.14L680.98 387.45L682.80 387.75L684.63 388.05M687.90 388.59L689.79 388.89L691.68 389.20L693.57 389.51L695.46 389.81L697.35 390.12" fill="none" stroke="#9096d8" stroke-width="0.85"/><path d="M166.75 219.48L168.35 221.31L169.98 223.14L171.66 224.97L173.39 226.80L175.16 228.63L176.98 230.45L178.81 232.24M182.08 235.33L183.91 237.00L185.74 238.63L187.57 240.22L189.39 241.77L191.22 243.29L193.05 244.78L194.88 246.23M198.15 248.76L199.98 250.13L201.81 251.48L203.64 252.80L205.46 254.10L207.29 255.37L209.12 256.62L210.95 257.85M214.22 259.99L216.05 261.15L217.88 262.30L219.71 263.43L221.53 264.54L223.36 265.64L225.19 266.71L227.02 267.77M230.29 269.63L232.12 270.65L233.95 271.65L235.78 272.63L237.60 273.61L239.43 274.57L241.26 275.51L243.09 276.45M246.36 278.08L248.19 278.98L250.02 279.87L251.85 280.75L253.67 281.61L255.50 282.47L257.33 283.31L259.16 284.14M262.43 285.61L264.26 286.41L266.09 287.21L267.92 288.00L269.74 288.78L271.57 289.55L273.40 290.31L275.23 291.06M278.50 292.39L280.33 293.12L282.16 293.84L283.99 294.56L285.81 295.27L287.64 295.97L289.47 296.66L291.30 297.35M294.57 298.56L296.40 299.23L298.23 299.89L300.06 300.54L301.88 301.19L303.71 301.84L305.54 302.47L307.37 303.10M310.64 304.22L312.47 304.83L314.30 305.44L316.13 306.05L317.95 306.65L319.78 307.24L321.61 307.83L323.44 308.41M326.71 309.45L328.54 310.02L330.37 310.58L332.20 311.14L334.02 311.70L335.85 312.25L337.68 312.80L339.51 313.34M342.78 314.30L344.61 314.84L346.44 315.36L348.27 315.89L350.09 316.41L351.92 316.92L353.75 317.43L355.58 317.94M358.85 318.84L360.68 319.34L362.51 319.83L364.34 320.32L366.16 320.81L367.99 321.29L369.82 321.77L371.65 322.25M374.92 323.10L376.75 323.56L378.58 324.03L380.41 324.49L382.23 324.95L384.06 325.40L385.89 325.86L387.72 326.30M390.99 327.10L392.82 327.54L394.65 327.98L396.48 328.42L398.30 328.85L400.13 329.28L401.96 329.71L403.79 330.13M407.06 330.89L408.89 331.30L410.72 331.72L412.55 332.13L414.37 332.54L416.20 332.95L418.03 333.36L419.86 333.76M423.13 334.47L424.96 334.87L426.79 335.26L428.62 335.66L430.44 336.05L432.27 336.43L434.10 336.82L435.93 337.20M439.20 337.88L441.03 338.26L442.86 338.63L444.69 339.01L446.51 339.38L448.34 339.75L450.17 340.12L452.00 340.48M455.27 341.13L457.10 341.49L458.93 341.85L460.76 342.20L462.58 342.56L464.41 342.91L466.24 343.26L468.07 343.61M471.34 344.23L473.17 344.57L475.00 344.92L476.83 345.26L478.65 345.59L480.48 345.93L482.31 346.27L484.14 346.60M487.41 347.20L489.24 347.52L491.07 347.85L492.90 348.18L494.72 348.50L496.55 348.83L498.38 349.15L500.21 349.47M503.48 350.04L505.31 350.35L507.14 350.67L508.97 350.98L510.79 351.29L512.62 351.60L514.45 351.91L516.28 352.22M519.55 352.77L521.38 353.07L523.21 353.37L525.04 353.68L526.86 353.98L528.69 354.27L530.52 354.57L532.35 354.87M535.62 355.39L537.45 355.69L539.28 355.98L541.11 356.27L542.93 356.56L544.76 356.84L546.59 357.13L548.42 357.42M551.69 357.92L553.52 358.20L555.35 358.49L557.18 358.76L559.00 359.04L560.83 359.32L562.66 359.60L564.49 359.87M567.76 360.36L569.59 360.63L571.42 360.90L573.25 361.17L575.07 361.44L576.90 361.71L578.73 361.98L580.56 362.24M583.83 362.72L585.66 362.98L587.49 363.24L589.32 363.50L591.14 363.76L592.97 364.02L594.80 364.28L596.63 364.54M599.90 364.99L601.73 365.25L603.56 365.50L605.39 365.75L607.21 366.00L609.04 366.26L610.87 366.50L612.70 366.75M615.97 367.20L617.80 367.44L619.63 367.69L621.46 367.93L623.28 368.18L625.11 368.42L626.94 368.66L628.77 368.90M632.04 369.33L633.87 369.57L635.70 369.81L637.53 370.05L639.35 370.28L641.18 370.52L643.01 370.75L644.84 370.99M648.11 371.40L649.94 371.63L651.77 371.86L653.60 372.09L655.42 372.32L657.25 372.55L659.08 372.78L660.91 373.01M664.18 373.41L666.01 373.64L667.84 373.86L669.67 374.08L671.49 374.31L673.32 374.53L675.15 374.75L676.98 374.97M680.25 375.36L682.08 375.58L683.91 375.80L685.74 376.02L687.56 376.23L689.39 376.45L691.22 376.67L693.05 376.88M696.32 377.26L696.83 377.32L697.35 377.38" fill="none" stroke="#5a967c" stroke-width="0.85"/><path d="M166.75 255.14L168.31 256.97L169.91 258.80L171.56 260.62L173.24 262.45L174.97 264.28L176.75 266.11L178.57 267.94M181.84 271.10L183.67 272.81L185.50 274.48L187.33 276.11L189.15 277.70L190.98 279.26L192.81 280.78L194.64 282.27M197.91 284.86L199.74 286.27L201.57 287.65L203.40 289.00L205.22 290.33L207.05 291.63L208.88 292.91L210.71 294.16M213.98 296.35L215.81 297.55L217.64 298.73L219.47 299.88L221.29 301.02L223.12 302.14L224.95 303.24L226.78 304.33M230.05 306.23L231.88 307.27L233.71 308.29L235.54 309.30L237.36 310.30L239.19 311.28L241.02 312.25L242.85 313.20M246.12 314.88L247.95 315.80L249.78 316.71L251.61 317.60L253.43 318.49L255.26 319.36L257.09 320.22L258.92 321.08M262.19 322.58L264.02 323.40L265.85 324.22L267.68 325.02L269.50 325.82L271.33 326.61L273.16 327.39L274.99 328.16M278.26 329.51L280.09 330.26L281.92 331.00L283.75 331.73L285.57 332.46L287.40 333.17L289.23 333.88L291.06 334.58M294.33 335.82L296.16 336.51L297.99 337.18L299.82 337.85L301.64 338.52L303.47 339.17L305.30 339.83L307.13 340.47M310.40 341.61L312.23 342.24L314.06 342.87L315.89 343.48L317.71 344.10L319.54 344.70L321.37 345.31L323.20 345.90M326.47 346.96L328.30 347.54L330.13 348.12L331.96 348.69L333.78 349.26L335.61 349.83L337.44 350.39L339.27 350.94M342.54 351.93L344.37 352.47L346.20 353.01L348.03 353.54L349.85 354.08L351.68 354.60L353.51 355.13L355.34 355.65M358.61 356.56L360.44 357.07L362.27 357.58L364.10 358.08L365.92 358.58L367.75 359.07L369.58 359.56L371.41 360.05M374.68 360.91L376.51 361.39L378.34 361.87L380.17 362.34L381.99 362.81L383.82 363.27L385.65 363.74L387.48 364.20M390.75 365.01L392.58 365.46L394.41 365.91L396.24 366.36L398.06 366.80L399.89 367.24L401.72 367.68L403.55 368.11M406.82 368.88L408.65 369.31L410.48 369.73L412.31 370.15L414.13 370.57L415.96 370.99L417.79 371.40L419.62 371.82M422.89 372.55L424.72 372.95L426.55 373.36L428.38 373.76L430.20 374.15L432.03 374.55L433.86 374.94L435.69 375.34M438.96 376.03L440.79 376.42L442.62 376.80L444.45 377.18L446.27 377.56L448.10 377.94L449.93 378.31L451.76 378.69M455.03 379.35L456.86 379.72L458.69 380.08L460.52 380.45L462.34 380.81L464.17 381.17L466.00 381.53L467.83 381.89M471.10 382.52L472.93 382.87L474.76 383.22L476.59 383.57L478.41 383.92L480.24 384.26L482.07 384.60L483.90 384.95M487.17 385.55L489.00 385.89L490.83 386.22L492.66 386.56L494.48 386.89L496.31 387.22L498.14 387.55L499.97 387.88M503.24 388.46L505.07 388.78L506.90 389.10L508.73 389.42L510.55 389.74L512.38 390.06L514.21 390.37L516.04 390.69M519.31 391.25L521.14 391.56L522.97 391.87L524.80 392.18L526.62 392.48L528.45 392.79L530.28 393.09L532.11 393.39M535.38 393.93L537.21 394.23L539.04 394.53L540.87 394.82L542.69 395.12L544.52 395.41L546.35 395.71L548.18 396.00M551.45 396.52L553.28 396.80L555.11 397.09L556.94 397.38L558.76 397.66L560.59 397.94L562.42 398.23L564.25 398.51M567.52 399.01L569.35 399.29L571.18 399.56L573.01 399.84L574.83 400.11L576.66 400.39L578.49 400.66L580.32 400.93M583.59 401.42L585.42 401.68L587.25 401.95L589.08 402.22L590.90 402.48L592.73 402.75L594.56 403.01L596.39 403.27M599.66 403.74L601.49 404.00L603.32 404.26L605.15 404.52L606.97 404.78L608.80 405.03L610.63 405.29L612.46 405.54M615.73 405.99L617.56 406.25L619.39 406.50L621.22 406.75L623.04 407.00L624.87 407.24L626.70 407.49L628.53 407.74M631.80 408.18L633.63 408.42L635.46 408.66L637.29 408.91L639.11 409.15L640.94 409.39L642.77 409.63L644.60 409.87M647.87 410.29L649.70 410.53L651.53 410.76L653.36 411.00L655.18 411.23L657.01 411.47L658.84 411.70L660.67 411.93M663.94 412.35L665.77 412.58L667.60 412.80L669.43 413.03L671.25 413.26L673.08 413.49L674.91 413.71L676.74 413.94M680.01 414.34L681.84 414.56L683.67 414.79L685.50 415.01L687.32 415.23L689.15 415.45L690.98 415.67L692.81 415.89M696.08 416.28L696.71 416.36L697.35 416.43" fill="none" stroke="#4696dc" stroke-width="0.85"/></g>
<rect x="542.1" y="17.9" width="209" height="156" fill="none" stroke="#000" stroke-width="1.5"/><circle cx="575.70" cy="40.70" r="5.4" fill="#003f00" stroke="#000" stroke-width="1.8"/><text transform="translate(607.5 47.0) scale(0.96 1)" class="t">PVC</text><circle cx="575.70" cy="62.60" r="5.4" fill="#00ff00" stroke="#000" stroke-width="1.8"/><text transform="translate(607.5 68.9) scale(0.96 1)" class="t">PS</text><path d="M575.70 90.17L580.52 81.81L570.88 81.81Z" fill="#008c00" stroke="#000" stroke-width="1.8"/><text transform="translate(607.5 90.9) scale(0.96 1)" class="t">PVA</text><path d="M575.70 100.93L580.52 109.28L570.88 109.28Z" fill="#a0ff00" stroke="#000" stroke-width="1.8"/><text transform="translate(607.5 112.8) scale(0.96 1)" class="t">PA</text><rect x="571.05" y="124.05" width="9.30" height="9.30" fill="#00c800" stroke="#000" stroke-width="1.8"/><text transform="translate(607.5 135.0) scale(0.96 1)" class="t">PHB</text><rect x="571.05" y="145.85" width="9.30" height="9.30" fill="#ffff00" stroke="#000" stroke-width="1.8"/><text transform="translate(607.5 156.8) scale(0.96 1)" class="t">PCL</text><path d="M669.90 34.75L675.85 40.70L669.90 46.65L663.95 40.70Z" fill="#004d00" stroke="#000" stroke-width="1.8"/><text transform="translate(701.3 47.0) scale(0.96 1)" class="t">PBS</text><path d="M669.90 56.65L675.85 62.60L669.90 68.55L663.95 62.60Z" fill="#00ff00" stroke="#000" stroke-width="1.8"/><text transform="translate(701.3 68.9) scale(0.96 1)" class="t">PLA</text><path d="M669.90 79.03L674.72 87.38L665.08 87.38Z" fill="#009600" stroke="#000" stroke-width="1.8"/><text transform="translate(701.3 90.9) scale(0.96 1)" class="t">PP</text><path d="M669.90 112.07L674.72 103.72L665.08 103.72Z" fill="#8cf000" stroke="#000" stroke-width="1.8"/><text transform="translate(701.3 112.8) scale(0.96 1)" class="t">PE</text><path d="M669.90 123.12L674.73 125.91L674.73 131.49L669.90 134.28L665.07 131.49L665.07 125.91Z" fill="#00c800" stroke="#000" stroke-width="1.8"/><text transform="translate(701.3 135.0) scale(0.96 1)" class="t">PHA</text>
</svg></body></html>
